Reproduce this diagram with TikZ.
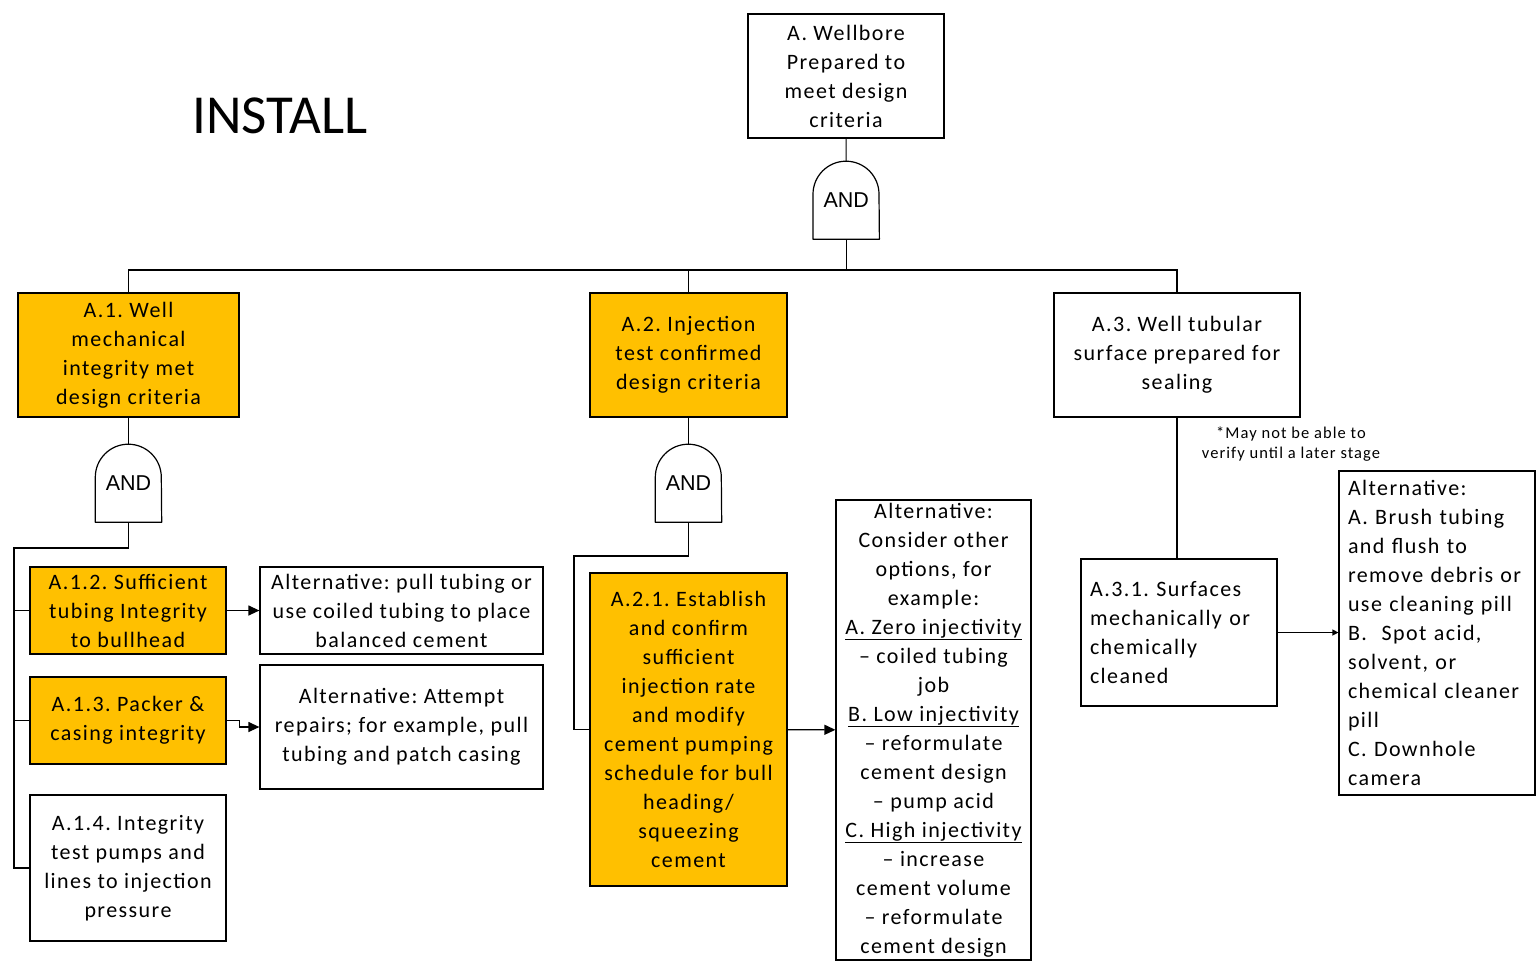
\documentclass[tikz,border=0pt]{standalone}
\usepackage{fontspec}
\setmainfont{Carlito}
\newfontfamily\boxfont[LetterSpace=6.5]{Carlito}
\newfontfamily\gatefont{Liberation Sans}
\usetikzlibrary{arrows.meta}
\definecolor{goal}{HTML}{FFC000}
\tikzset{
  box/.style={draw=black, line width=1.2pt, align=center, inner sep=0pt,
    font=\boxfont\fontsize{22}{29}\selectfont\frenchspacing},
  goalbox/.style={box, fill=goal},
  leftbox/.style={box, align=left, inner xsep=9pt},
  andgate/.style={inner sep=0pt, minimum width=66pt, minimum height=78pt,
    font=\gatefont\fontsize{21.5}{24}\selectfont},
  link/.style={line width=1.2pt},
  arr/.style={line width=1.2pt, -{Triangle[length=11pt,width=10pt]}},
  smallarr/.style={line width=1.2pt, -{Triangle[length=6pt,width=6pt]}},
}
% outline of an AND gate around a named gate node
\newcommand{\andshape}[1]{%
  \draw[line width=1.2pt, line join=round] (#1.south west) -- ++(0pt,45pt)
    arc[start angle=180, end angle=0, radius=33pt] -- (#1.south east) -- cycle;}
\begin{document}
\begin{tikzpicture}[x=1pt,y=1pt]
\useasboundingbox (0,0) rectangle (1536,-967);

\node[font=\fontsize{55}{60}\selectfont] (title) at (280,-116) {INSTALL};

% top event
\node[box, minimum width=196pt, minimum height=124pt] (A) at (846,-76)
  {A. Wellbore\\Prepared to\\meet design\\criteria};
\node[andgate] (g0) at (846.2,-200) {AND};
\andshape{g0}

% first level
\node[goalbox, minimum width=221pt, minimum height=124pt] (A1) at (128.5,-355)
  {A.1. Well\\mechanical\\integrity met\\design criteria};
\node[goalbox, minimum width=197pt, minimum height=124pt] (A2) at (688.5,-355)
  {A.2. Injection\\test confirmed\\design criteria};
\node[box, minimum width=246pt, minimum height=124pt] (A3) at (1177,-355)
  {A.3. Well tubular\\surface prepared for\\sealing};

\coordinate (bus) at (0,-270);
\draw[link] (A) -- (g0);
\draw[link] (g0.south) -- (g0.south |- bus);
\draw[link] (A1.north) -- (A1.north |- bus) -- (A3.north |- bus) -- (A3.north);
\draw[link] (A2.north) -- (A2.north |- bus);

% branch A.1
\node[andgate] (g1) at (128.5,-483) {AND};
\andshape{g1}
\draw[link] (A1) -- (g1);

\node[goalbox, minimum width=196pt, minimum height=87pt] (A12) at (128,-610.5)
  {A.1.2. Sufficient\\tubing Integrity\\to bullhead};
\node[goalbox, minimum width=196pt, minimum height=87pt] (A13) at (128,-720.5)
  {A.1.3. Packer \&\\casing integrity};
\node[box, minimum width=196pt, minimum height=146pt] (A14) at (128,-868)
  {A.1.4. Integrity\\test pumps and\\lines to injection\\pressure};

\coordinate (l1) at (14,-548);
\draw[link] (g1.south) -- (g1.south |- l1) -- (l1) |- (A14.west);
\draw[link] (l1 |- A12.west) -- (A12.west);
\draw[link] (l1 |- A13.west) -- (A13.west);

\node[box, minimum width=283pt, minimum height=87pt] (alt1) at (401.5,-610.5)
  {Alternative: pull tubing or\\use coiled tubing to place\\balanced cement};
\node[box, minimum width=283pt, minimum height=124pt] (alt2) at (401.5,-727)
  {Alternative: Attempt\\repairs; for example, pull\\tubing and patch casing};
\draw[arr] (A12) -- (alt1);
\draw[arr] (A13.east) -- ++(13,0) |- (alt2.west);

% branch A.2
\node[andgate] (g2) at (688.5,-483) {AND};
\andshape{g2}
\draw[link] (A2) -- (g2);

\node[goalbox, minimum width=197pt, minimum height=313pt] (A21) at (688.5,-729.5)
  {A.2.1. Establish\\and confirm\\sufficient\\injection rate\\and modify\\cement pumping\\schedule for bull\\heading/\\squeezing\\cement};
\coordinate (l2) at (574,-556);
\draw[link] (g2.south) -- (g2.south |- l2) -- (l2) |- (A21.west);

\node[box, minimum width=195pt, minimum height=460pt] (alt3) at (933.5,-730)
  {Alternative:\\Consider other\\options, for\\example:\\\underline{A. Zero injectivity}\\%
   – coiled tubing\\job\\\underline{B. Low injectivity}\\– reformulate\\cement design\\%
   – pump acid\\\underline{C. High injectivity}\\– increase\\cement volume\\%
   – reformulate\\cement design};
\draw[arr] (A21) -- (alt3);

% branch A.3
\node[leftbox, minimum width=196pt, minimum height=147pt, text width=178pt] (A31) at (1179,-632.5)
  {A.3.1. Surfaces\\mechanically or\\chemically\\cleaned};
\draw[link] (A3.south) -- (A3.south |- A31.north);

\node[font=\boxfont\fontsize{16.5}{20}\selectfont, align=center] (note) at (1291,-444)
  {*May not be able to\\verify until a later stage};

\node[leftbox, minimum width=196pt, minimum height=324pt, text width=178pt] (alt4) at (1437,-633)
  {Alternative:\\A. Brush tubing\\and flush to\\remove debris or\\use cleaning pill\\%
   B.\ \ Spot acid,\\solvent, or\\chemical cleaner\\pill\\C. Downhole\\camera};
\draw[smallarr] (A31.east) -- (A31.east -| alt4.west);
\end{tikzpicture}
\end{document}
